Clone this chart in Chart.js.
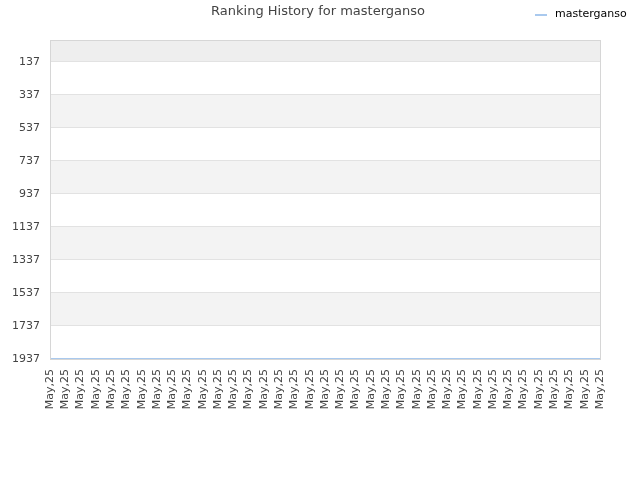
<!DOCTYPE html>
<html>
<head>
<meta charset="utf-8">
<script src="https://cdn.jsdelivr.net/npm/chart.js@4/dist/chart.umd.min.js"></script>
<style>
  html, body { margin: 0; padding: 0; background: #fff; }
  #wrap { width: 640px; height: 480px; }
</style>
</head>
<body>
<div id="wrap"><canvas id="chart" width="640" height="480"></canvas></div>
<script>
const titleText = 'Ranking History for masterganso';
const seriesName = 'masterganso';
const labels = [
  'May,25', 'May,25', 'May,25', 'May,25', 'May,25', 'May,25', 'May,25', 'May,25',
  'May,25', 'May,25', 'May,25', 'May,25', 'May,25', 'May,25', 'May,25', 'May,25',
  'May,25', 'May,25', 'May,25', 'May,25', 'May,25', 'May,25', 'May,25', 'May,25',
  'May,25', 'May,25', 'May,25', 'May,25', 'May,25', 'May,25', 'May,25', 'May,25',
  'May,25', 'May,25', 'May,25', 'May,25', 'May,25'
];
const ranks = [
  1937, 1937, 1937, 1937, 1937, 1937, 1937, 1937,
  1937, 1937, 1937, 1937, 1937, 1937, 1937, 1937,
  1937, 1937, 1937, 1937, 1937, 1937, 1937, 1937,
  1937, 1937, 1937, 1937, 1937, 1937, 1937, 1937,
  1937, 1937, 1937, 1937, 1937
];
const yTicks = [137, 337, 537, 737, 937, 1137, 1337, 1537, 1737, 1937];
const yMin = 4;
const yMax = 1937;

const lineColor = '#a9c9ee';
const font = 'DejaVu Sans';

// alternating bands behind the grid, plus frame, title and legend
const bands = {
  id: 'bands',
  beforeDraw(chart) {
    const { ctx, chartArea: a, scales: { y } } = chart;
    const edges = [yMin].concat(yTicks);
    ctx.save();
    for (let i = 0; i < edges.length - 1; i++) {
      const idx = edges.length - 2 - i; // count from bottom
      if (idx % 2 === 1 || i === 0) {
        const y1 = y.getPixelForValue(edges[i]);
        const y2 = y.getPixelForValue(edges[i + 1]);
        ctx.fillStyle = i === 0 ? '#eeeeee' : '#f3f3f3';
        ctx.fillRect(a.left, y1, a.right - a.left, y2 - y1);
      }
    }
    ctx.restore();
  },
  afterDraw(chart) {
    const { ctx, chartArea: a } = chart;
    ctx.save();
    ctx.strokeStyle = '#d6d6d6';
    ctx.lineWidth = 1;
    ctx.strokeRect(a.left + 0.5, a.top + 0.5, a.right - a.left, a.bottom - a.top);

    ctx.fillStyle = '#444';
    ctx.font = '13px "' + font + '"';
    ctx.textAlign = 'center';
    ctx.textBaseline = 'middle';
    ctx.fillText(titleText, 318, 12);

    ctx.strokeStyle = lineColor;
    ctx.lineWidth = 2;
    ctx.beginPath();
    ctx.moveTo(535, 15);
    ctx.lineTo(547, 15);
    ctx.stroke();
    ctx.fillStyle = '#000';
    ctx.font = '11px "' + font + '"';
    ctx.textAlign = 'left';
    ctx.fillText(seriesName, 555, 14);
    ctx.restore();
  }
};

new Chart(document.getElementById('chart'), {
  type: 'line',
  data: {
    labels: labels,
    datasets: [{
      label: seriesName,
      data: ranks,
      borderColor: lineColor,
      backgroundColor: lineColor,
      borderWidth: 2,
      pointRadius: 0,
      tension: 0
    }]
  },
  options: {
    responsive: false,
    animation: false,
    layout: { padding: { top: 40, right: 40, left: 0, bottom: 0 } },
    plugins: {
      legend: { display: false },
      title: { display: false },
      tooltip: { enabled: false }
    },
    scales: {
      x: {
        offset: false,
        grid: { display: false },
        border: { display: false },
        ticks: {
          autoSkip: false,
          minRotation: 90,
          maxRotation: 90,
          color: '#444',
          font: { family: font, size: 11 },
          padding: 2
        },
        afterFit(scale) { scale.height = 121; }
      },
      y: {
        reverse: true,
        min: yMin,
        max: yMax,
        afterBuildTicks(scale) {
          scale.ticks = yTicks.map(v => ({ value: v }));
        },
        grid: { color: '#e2e2e2', drawTicks: false },
        border: { display: false },
        ticks: {
          color: '#444',
          font: { family: font, size: 11 },
          padding: 10,
          callback: v => String(v)
        },
        afterFit(scale) { scale.width = 50; }
      }
    }
  },
  plugins: [bands]
});
</script>
</body>
</html>
